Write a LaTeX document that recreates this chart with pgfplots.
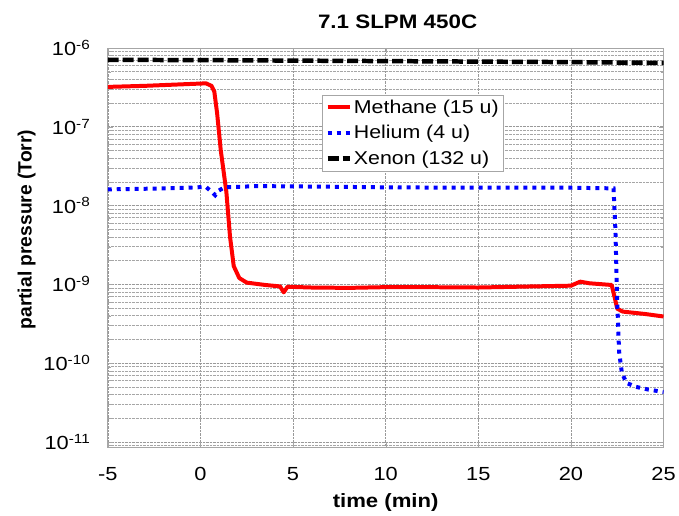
\documentclass[border=0pt]{standalone}
\usepackage{fontspec}
\setmainfont[FakeStretch=1.15]{Liberation Sans}
\newfontfamily\plainsans{Liberation Sans}
\usepackage{pgfplots}
\pgfplotsset{compat=1.18}

\pgfplotstableread{
t p
-5.0 3.20e-7
-3.0 3.30e-7
-1.0 3.45e-7
0.3 3.55e-7
0.6 3.30e-7
0.75 2.80e-7
0.9 1.50e-7
1.1 5.00e-8
1.4 1.50e-8
1.6 4.00e-9
1.8 1.70e-9
2.1 1.20e-9
2.5 1.05e-9
3.5 9.80e-10
4.3 9.40e-10
4.5 7.90e-10
4.7 9.30e-10
6.0 9.10e-10
8.0 9.00e-10
10.0 9.20e-10
12.0 9.20e-10
15.0 9.10e-10
17.0 9.30e-10
19.0 9.50e-10
20.0 9.60e-10
20.5 1.08e-9
21.0 1.03e-9
22.2 9.80e-10
22.35 7.00e-10
22.5 4.90e-10
22.8 4.50e-10
24.0 4.20e-10
25.0 3.90e-10
}\methane

\pgfplotstableread{
t p
-5.0 1.60e-8
-3.0 1.63e-8
-1.0 1.67e-8
0.3 1.72e-8
0.6 1.50e-8
0.8 1.35e-8
1.0 1.55e-8
1.3 1.70e-8
3.0 1.76e-8
5.0 1.75e-8
10.0 1.70e-8
15.0 1.68e-8
20.0 1.68e-8
22.3 1.65e-8
22.4 5.00e-9
22.5 6.00e-10
22.6 1.40e-10
22.75 7.50e-11
23.0 5.60e-11
23.5 5.00e-11
24.2 4.60e-11
25.0 4.30e-11
}\helium

\pgfplotstableread{
t p
-5.0 7.05e-7
0.0 7.00e-7
5.0 6.90e-7
10.0 6.80e-7
15.0 6.70e-7
20.0 6.60e-7
25.0 6.45e-7
}\xenon

\begin{document}
\begin{tikzpicture}
\begin{axis}[
  scale only axis, width=557pt, height=400pt,
  xmin=-5, xmax=25, ymode=log, log basis y=10,
  ymin=8.6e-12, ymax=1e-6,
  xtick={-5,0,...,25},
  yticklabel={10\textsuperscript{\pgfmathparse{int(round(\tick))}\pgfmathresult}},
  /pgf/number format/assume math mode=true,
  tick label style={font=\fontsize{19}{22}\selectfont},
  xticklabel style={yshift=-17pt},
  yticklabel style={xshift=-14pt},
  xlabel style={font=\fontsize{19.3}{22}\selectfont\bfseries, yshift=-6pt},
  ylabel style={font=\fontsize{19.3}{22}\selectfont\plainsans\bfseries, yshift=1pt, xshift=18pt},
  xlabel={time (min)}, ylabel={partial pressure (Torr)},
  title={7.1 SLPM 450C},
  title style={font=\fontsize{19.5}{22}\selectfont\bfseries, yshift=10pt, xshift=12pt},
  axis line style={gray!70, line width=0.8pt},
  tick style={gray!70},
  major tick length=5pt, minor tick length=3pt,
  xmajorgrids, ymajorgrids, yminorgrids,
  major grid style={densely dotted, gray!80},
  minor grid style={densely dotted, gray!70},
  legend style={at={(0.386,0.8825)}, anchor=north west,
    font=\fontsize{18.6}{22}\selectfont, draw=gray!70,
    row sep=6.5pt, inner sep=3pt},
  legend cell align=left,
  legend image code/.code={\draw[#1] (0pt,0pt) -- (22pt,0pt);},
]
\addplot[red, line width=4pt, line join=round] table[x=t, y=p] {\methane};
\addlegendentry{Methane (15 u)}
\addplot[blue, line width=4pt, dash pattern=on 4pt off 5pt] table[x=t, y=p] {\helium};
\addlegendentry{Helium (4 u)}
\addplot[black, line width=4.5pt, dash pattern=on 11pt off 4pt] table[x=t, y=p] {\xenon};
\addlegendentry{Xenon (132 u)}
\coordinate (bl) at (rel axis cs:0,0);
\coordinate (tr) at (rel axis cs:1,1);
\end{axis}
\path (bl) ++(-108pt,-68pt) coordinate (a);
\path (tr) ++(14pt,48pt) coordinate (b);
\path (a) rectangle (b);
\end{tikzpicture}
\end{document}
